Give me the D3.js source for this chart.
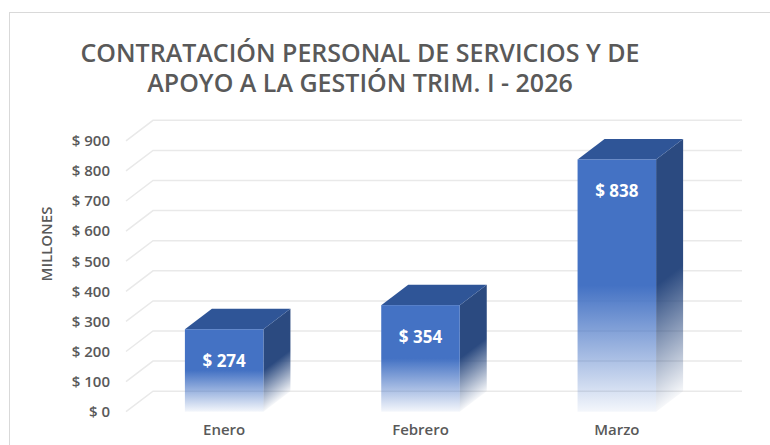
<!DOCTYPE html>
<html>
<head>
<meta charset="utf-8">
<script src="https://cdn.jsdelivr.net/npm/d3@7"></script>
<style>
  body { margin: 0; background: #fff; }
  text { font-family: "Open Sans", sans-serif; }
</style>
</head>
<body>
<div id="chart"></div>
<script>
(function() {
    // Data
    var titleLines = ["CONTRATACIÓN PERSONAL DE SERVICIOS Y DE", "APOYO A LA GESTIÓN TRIM. I - 2026"];
    var categories = ["Enero", "Febrero", "Marzo"];
    var values = [274, 354, 838];
    var yTicks = [0, 100, 200, 300, 400, 500, 600, 700, 800, 900];
    var yTitle = "MILLONES";

    var width = 770, height = 445;
    // 3D depth offset of the back wall
    var depth = { x: 27, y: -20.5 };

    var svg = d3.select("#chart")
        .append("svg")
        .attr("width", width)
        .attr("height", height);

    // Chart area border
    svg.append("rect")
        .attr("x", 9.5)
        .attr("y", 12.5)
        .attr("width", 800)
        .attr("height", 500)
        .attr("fill", "none")
        .attr("stroke", "#d9d9d9");

    // Scales (front plane)
    var x = d3.scaleBand()
        .domain(categories)
        .range([126, 715])
        .paddingInner(0.6)
        .paddingOuter(0.3);

    var y = d3.scaleLinear()
        .domain([0, 900])
        .range([411.7, 140.8]);

    // Gradients
    var defs = svg.append("defs");
    var front = defs.append("linearGradient")
        .attr("id", "frontGrad")
        .attr("x1", 0).attr("y1", 0).attr("x2", 0).attr("y2", 1);
    front.append("stop").attr("offset", "0").attr("stop-color", "#4472c4");
    front.append("stop").attr("offset", "0.5").attr("stop-color", "#4472c4");
    front.append("stop").attr("offset", "1").attr("stop-color", "#4472c4").attr("stop-opacity", 0.06);

    var side = defs.append("linearGradient")
        .attr("id", "sideGrad")
        .attr("x1", 0).attr("y1", 0).attr("x2", 0).attr("y2", 1);
    side.append("stop").attr("offset", "0").attr("stop-color", "#2b4a80");
    side.append("stop").attr("offset", "0.5").attr("stop-color", "#2b4a80");
    side.append("stop").attr("offset", "1").attr("stop-color", "#2b4a80").attr("stop-opacity", 0.04);

    // Gridlines: side wall diagonal + back wall horizontal
    var x0 = x.range()[0], x1 = x.range()[1];
    svg.append("g")
        .selectAll("path")
        .data(yTicks)
        .enter().append("path")
        .attr("d", function(d) {
            var yf = y(d);
            return "M" + x0 + "," + yf +
                "L" + (x0 + depth.x) + "," + (yf + depth.y) +
                "L" + (x1 + depth.x) + "," + (yf + depth.y);
        })
        .attr("fill", "none")
        .attr("stroke", "#e9e9e9")
        .attr("stroke-width", 1.5);

    // Y axis labels
    var yAxis = d3.axisLeft(y)
        .tickValues(yTicks)
        .tickSize(0)
        .tickPadding(0)
        .tickFormat(function(d) { return "$ " + d; });

    var yAxisG = svg.append("g")
        .attr("transform", "translate(110,0)")
        .call(yAxis);
    yAxisG.select(".domain").remove();
    yAxisG.selectAll("text")
        .attr("fill", "#595959")
        .style("font-family", "'Open Sans', sans-serif")
        .style("font-size", "15px")
        .style("font-weight", 600);

    // Y axis title
    svg.append("text")
        .attr("transform", "translate(52,244) rotate(-90)")
        .attr("text-anchor", "middle")
        .attr("fill", "#595959")
        .style("font-size", "15px")
        .style("font-weight", 600)
        .text(yTitle);

    // X axis labels
    var xAxis = d3.axisBottom(x).tickSize(0).tickPadding(0);
    var xAxisG = svg.append("g")
        .attr("transform", "translate(0,424)")
        .call(xAxis);
    xAxisG.select(".domain").remove();
    xAxisG.selectAll("text")
        .attr("fill", "#595959")
        .style("font-family", "'Open Sans', sans-serif")
        .style("font-size", "15px")
        .style("font-weight", 600);

    // Bars
    var bars = svg.append("g")
        .selectAll(".bar")
        .data(values)
        .enter().append("g")
        .attr("class", "bar");

    var bw = x.bandwidth();
    var left = function(d, i) { return x(categories[i]); };

    // side face (skewed so the fade follows the depth)
    bars.append("rect")
        .attr("transform", function(d, i) {
            return "translate(" + (left(d, i) + bw) + ",0) skewY(" +
                (Math.atan2(depth.y, depth.x) * 180 / Math.PI) + ")";
        })
        .attr("x", 0)
        .attr("y", function(d) { return y(d); })
        .attr("width", depth.x)
        .attr("height", function(d) { return y(0) - y(d); })
        .attr("fill", "url(#sideGrad)");

    // top face
    bars.append("path")
        .attr("d", function(d, i) {
            var l = left(d, i), t = y(d);
            return "M" + l + "," + t +
                "L" + (l + depth.x) + "," + (t + depth.y) +
                "L" + (l + bw + depth.x) + "," + (t + depth.y) +
                "L" + (l + bw) + "," + t + "Z";
        })
        .attr("fill", "#2f5597");

    // front face
    bars.append("rect")
        .attr("x", left)
        .attr("y", function(d) { return y(d); })
        .attr("width", bw)
        .attr("height", function(d) { return y(0) - y(d); })
        .attr("fill", "url(#frontGrad)");

    // Data labels
    bars.append("text")
        .attr("x", function(d, i) { return left(d, i) + bw / 2; })
        .attr("y", function(d) { return y(d) + 32; })
        .attr("dy", "0.35em")
        .attr("text-anchor", "middle")
        .attr("fill", "#ffffff")
        .style("font-size", "17px")
        .style("font-weight", 700)
        .text(function(d) { return "$ " + d; });

    // Title
    svg.append("g")
        .selectAll("text")
        .data(titleLines)
        .enter().append("text")
        .attr("x", 360)
        .attr("y", function(d, i) { return 61.7 + i * 30; })
        .attr("text-anchor", "middle")
        .attr("fill", "#595959")
        .style("font-size", "25px")
        .style("font-weight", 600)
        .text(function(d) { return d; });
})();
</script>
</body>
</html>
